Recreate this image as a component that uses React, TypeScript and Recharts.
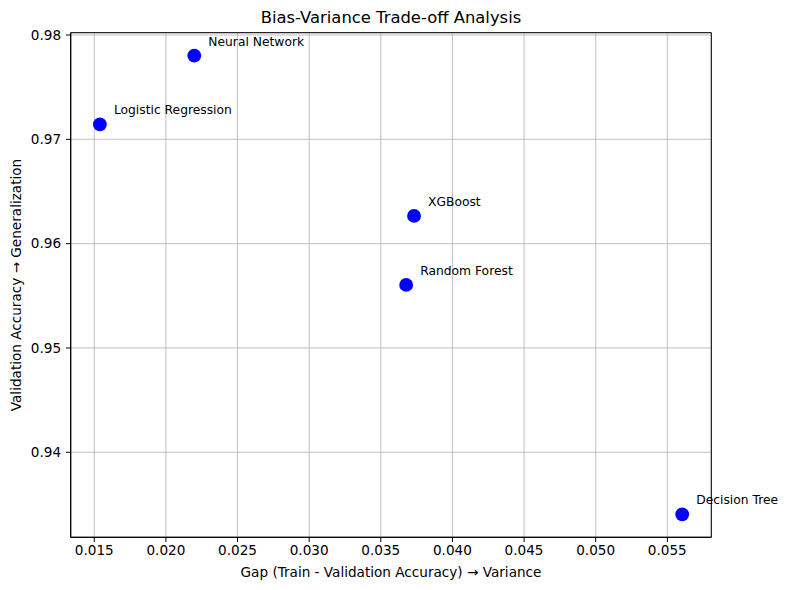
import React from 'react';
import { ScatterChart, Scatter, XAxis, YAxis, CartesianGrid, ReferenceArea } from 'recharts';

const modelNames = ['Logistic Regression', 'Neural Network', 'XGBoost', 'Random Forest', 'Decision Tree'];
const gapValues = [0.01539, 0.02198, 0.03732, 0.03677, 0.05604];
const valAccValues = [0.97144, 0.97802, 0.96266, 0.95604, 0.93405];

const xTicks = [0.015, 0.02, 0.025, 0.03, 0.035, 0.04, 0.045, 0.05, 0.055];
const yTicks = [0.94, 0.95, 0.96, 0.97, 0.98];
const xDomain = [0.013353, 0.05807];
const yDomain = [0.93185, 0.98022];

const TITLE = 'Bias-Variance Trade-off Analysis';
const X_LABEL = 'Gap (Train - Validation Accuracy) → Variance';
const Y_LABEL = 'Validation Accuracy → Generalization';

const data = modelNames.map((name, i) => ({ name, x: gapValues[i], y: valAccValues[i] }));

const FONT = 'DejaVu Sans, sans-serif';

const PointShape = (props: any) => {
  const { cx, cy, payload } = props;
  if (cx == null || cy == null) return null;
  return (
    <g>
      <circle cx={cx} cy={cy} r={6.9} fill="#0000ff" />
      <text x={cx + 14} y={cy - 10} fontSize={12.3} fontFamily={FONT} fill="#000">
        {payload.name}
      </text>
    </g>
  );
};

export default function App() {
  return (
    <div style={{ position: 'absolute', left: 0, top: 0, width: 789, height: 590, background: '#fff' }}>
      <ScatterChart width={789} height={590} margin={{ top: 32.7, right: 77.7, left: 0, bottom: 0 }}>
        <CartesianGrid stroke="#b0b0b0" strokeWidth={0.8} />
        <XAxis
          type="number"
          dataKey="x"
          domain={xDomain}
          ticks={xTicks}
          interval={0}
          tickFormatter={(v: number) => v.toFixed(3)}
          height={52.7}
          tickSize={4.8}
          tickMargin={3}
          axisLine={{ stroke: '#000', strokeWidth: 1 }}
          tickLine={{ stroke: '#000', strokeWidth: 1 }}
          tick={{ fill: '#000', fontSize: 13.6, fontFamily: FONT }}
          label={{
            content: (p: any) => {
              const vb = p.viewBox;
              return (
                <text x={vb.x + vb.width / 2} y={vb.y + 40} textAnchor="middle" fontSize={13.6} fontFamily={FONT} fill="#000">
                  {X_LABEL}
                </text>
              );
            },
          }}
        />
        <YAxis
          type="number"
          dataKey="y"
          domain={yDomain}
          ticks={yTicks}
          interval={0}
          tickFormatter={(v: number) => v.toFixed(2)}
          width={70.7}
          tickSize={4.8}
          tickMargin={4.8}
          axisLine={{ stroke: '#000', strokeWidth: 1 }}
          tickLine={{ stroke: '#000', strokeWidth: 1 }}
          tick={{ fill: '#000', fontSize: 13.6, fontFamily: FONT }}
          label={{
            content: (p: any) => {
              const vb = p.viewBox;
              const cx = vb.x + 21;
              const cy = vb.y + vb.height / 2;
              return (
                <text x={cx} y={cy} transform={`rotate(-90 ${cx} ${cy})`} textAnchor="middle" fontSize={13.6} fontFamily={FONT} fill="#000">
                  {Y_LABEL}
                </text>
              );
            },
          }}
        />
        <ReferenceArea
          x1={xDomain[0]}
          x2={xDomain[1]}
          y1={yDomain[0]}
          y2={yDomain[1]}
          ifOverflow="visible"
          fill="none"
          fillOpacity={0}
          stroke="#000"
          strokeWidth={1}
          label={{ value: TITLE, position: 'top', offset: 10, fontSize: 16.4, fontFamily: FONT, fill: '#000' }}
        />
        <Scatter data={data} isAnimationActive={false} shape={PointShape} />
      </ScatterChart>
    </div>
  );
}
